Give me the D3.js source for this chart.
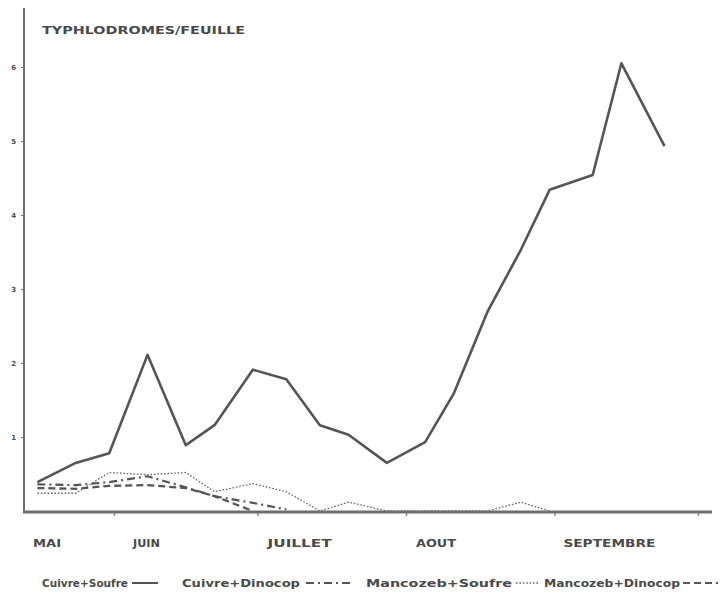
<!DOCTYPE html>
<html>
<head>
<meta charset="utf-8">
<script src="https://cdn.jsdelivr.net/npm/d3@7"></script>
<style>
  html, body { margin: 0; padding: 0; background: #fff; }
  svg { display: block; }
  text { font-family: "DejaVu Sans", sans-serif; font-weight: bold; fill: #4a4a4a; }
</style>
</head>
<body>
<svg id="chart" width="721" height="600"></svg>
<script>
// Sampling dates (1985 season)
const dates = ["1985-05-16","1985-05-24","1985-05-31","1985-06-08","1985-06-16","1985-06-22",
  "1985-06-30","1985-07-07","1985-07-14","1985-07-20","1985-07-28","1985-08-05","1985-08-11",
  "1985-08-18","1985-08-25","1985-08-31","1985-09-09","1985-09-15","1985-09-24"];

// Typhlodromes per leaf, one array per treatment (null = not sampled / not drawn)
const cuivreSoufre   = [0.39,0.65,0.78,2.11,0.89,1.16,1.91,1.78,1.16,1.03,0.65,0.93,1.59,2.69,3.53,4.34,4.54,6.05,4.93];
const cuivreDinocop  = [0.36,0.35,0.39,0.47,0.32,0.20,0.11,0.02,null,null,null,null,null,null,null,null,null,null,null];
const mancozebSoufre = [0.24,0.24,0.52,0.49,0.52,0.26,0.37,0.26,0.00,0.12,0.00,0.00,0.00,0.00,0.12,0.00,null,null,null];
const mancozebDinocop= [0.31,0.30,0.34,0.35,0.31,0.20,0.00,null,null,null,null,null,null,null,null,null,null,null,null];

const yTicks = [1,2,3,4,5,6];
const monthLabels = ["MAI","JUIN","JUILLET","AOUT","SEPTEMBRE"];
const titleText = "TYPHLODROMES/FEUILLE";
const legendLabels = ["Cuivre+Soufre","Cuivre+Dinocop","Mancozeb+Soufre","Mancozeb+Dinocop"];

const parse = d3.utcParse("%Y-%m-%d");
const days = dates.map(parse);

const svg = d3.select("#chart");
const axisX = 24, baseY = 512;

const x = d3.scaleUtc()
  .domain([parse("1985-06-01"), parse("1985-10-01")])
  .range([114, 698]);
const y = d3.scaleLinear().domain([0, 6]).range([511, 67]);

// Title
svg.append("text")
  .attr("x", 42).attr("y", 34)
  .attr("font-size", 11)
  .attr("textLength", 203).attr("lengthAdjust", "spacingAndGlyphs")
  .text(titleText);

// Series
const series = [
  { values: cuivreSoufre,    width: 2.6, dash: null,      color: "#555" },
  { values: cuivreDinocop,   width: 2.2, dash: "8,4,2,4", color: "#555" },
  { values: mancozebSoufre,  width: 1.3, dash: "1.6,1.8", color: "#666" },
  { values: mancozebDinocop, width: 2.3, dash: "7,4",     color: "#555" }
];

const line = d3.line()
  .defined(d => d.v !== null)
  .x(d => x(d.t))
  .y(d => y(d.v));

series.forEach(s => {
  svg.append("path")
    .datum(s.values.map((v, i) => ({ t: days[i], v })))
    .attr("fill", "none")
    .attr("stroke", s.color)
    .attr("stroke-width", s.width)
    .attr("stroke-linejoin", "round")
    .attr("stroke-dasharray", s.dash)
    .attr("d", line);
});

// Axes
const gY = svg.append("g").attr("transform", `translate(${axisX},0)`)
  .call(d3.axisLeft(y).tickValues(yTicks).tickSize(3).tickPadding(5).tickFormat(d3.format("d")));
gY.select(".domain").remove();
gY.selectAll(".tick line").attr("stroke", "#777").attr("stroke-width", 1);
gY.selectAll(".tick text").attr("font-size", 7).attr("font-family", "DejaVu Sans").attr("font-weight", "bold").attr("fill", "#555");

svg.append("line")
  .attr("x1", axisX).attr("x2", axisX).attr("y1", 8).attr("y2", baseY)
  .attr("stroke", "#6e6e6e").attr("stroke-width", 2);

const months = d3.utcMonth.range(parse("1985-06-01"), parse("1985-10-02"));
const gX = svg.append("g").attr("transform", `translate(0,${baseY})`)
  .call(d3.axisBottom(x).tickValues(months).tickSize(4).tickFormat(""));
gX.select(".domain").remove();
gX.selectAll(".tick line").attr("stroke", "#888").attr("stroke-width", 1.5);

svg.append("line")
  .attr("x1", axisX - 1).attr("x2", 712).attr("y1", baseY).attr("y2", baseY)
  .attr("stroke", "#6e6e6e").attr("stroke-width", 3);

// Month labels, set just right of each month's start tick
const monthStarts = [parse("1985-05-01")].concat(months.slice(0, 4));
const labelOffsets = [0, 19, 10, 10, 9];
const labelWidths = [28, 27, 64, 40, 92];
monthLabels.forEach((m, i) => {
  const lx = i === 0 ? 33 : x(monthStarts[i]) + labelOffsets[i];
  svg.append("text")
    .attr("x", lx).attr("y", 547)
    .attr("font-size", 10.5)
    .attr("textLength", labelWidths[i]).attr("lengthAdjust", "spacingAndGlyphs")
    .text(m);
});

// Legend
const legendTextX = [42, 182, 366, 544];
const legendTextW = [86, 118, 146, 136];
const legendSym = [[132, 158], [306, 350], [516, 538], [683, 718]];
legendLabels.forEach((label, i) => {
  svg.append("text")
    .attr("x", legendTextX[i]).attr("y", 587)
    .attr("font-size", 11)
    .attr("textLength", legendTextW[i]).attr("lengthAdjust", "spacingAndGlyphs")
    .text(label);
  const s = series[i];
  svg.append("line")
    .attr("x1", legendSym[i][0]).attr("x2", legendSym[i][1])
    .attr("y1", 583).attr("y2", 583)
    .attr("stroke", s.color)
    .attr("stroke-width", i === 2 ? 1.4 : 2)
    .attr("stroke-dasharray", s.dash);
});
</script>
</body>
</html>
